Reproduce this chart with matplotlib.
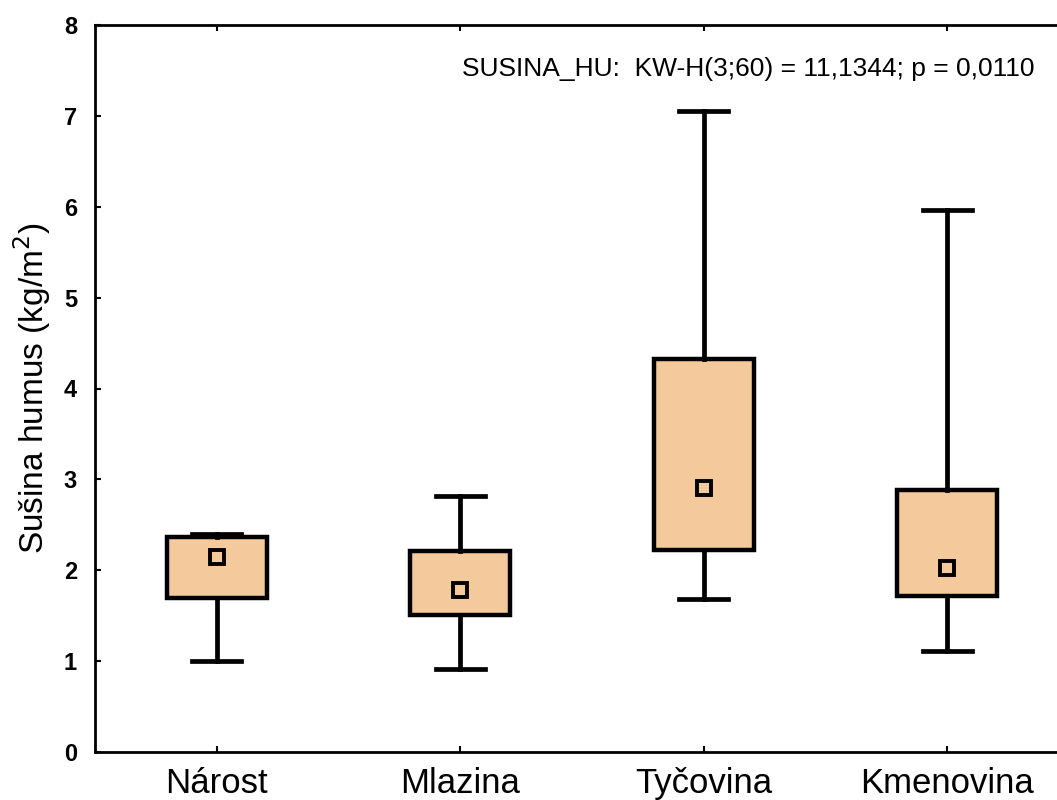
import matplotlib
matplotlib.use("Agg")
import matplotlib.pyplot as plt

categories = ["Nárost", "Mlazina", "Tyčovina", "Kmenovina"]
whisker_low = [1.00, 0.91, 1.68, 1.11]
q1 = [1.70, 1.51, 2.22, 1.72]
q3 = [2.37, 2.21, 4.32, 2.88]
whisker_high = [2.40, 2.82, 7.05, 5.96]
medians = [2.15, 1.78, 2.91, 2.02]
y_ticks = [0, 1, 2, 3, 4, 5, 6, 7, 8]

fig = plt.figure(figsize=(10.57, 8), dpi=100)
ax = fig.add_axes([95/1057, 1-752/800, (1069-95)/1057, (752-25)/800])

stats = []
for i, c in enumerate(categories):
    stats.append(dict(label=c, whislo=whisker_low[i], q1=q1[i], med=medians[i],
                      q3=q3[i], whishi=whisker_high[i], mean=medians[i], fliers=[]))

fill = "#F4C99B"
ax.bxp(stats, positions=range(len(categories)), widths=0.41, patch_artist=True,
       showmeans=True, showfliers=False,
       boxprops=dict(facecolor=fill, edgecolor="black", linewidth=3.2),
       whiskerprops=dict(color="black", linewidth=3.4),
       capprops=dict(color="black", linewidth=3.4),
       capwidths=0.2,
       medianprops=dict(linewidth=0),
       meanprops=dict(marker="s", markersize=10.5, markerfacecolor=fill,
                      markeredgecolor="black", markeredgewidth=2.8))

ax.set_xlim(-0.5, 3.5)
ax.set_ylim(0, 8)
ax.set_yticks(y_ticks)
ax.set_yticklabels([str(t) for t in y_ticks], fontfamily="Liberation Sans",
                   fontweight="bold", fontsize=17)
ax.set_xticks(range(len(categories)))
ax.set_xticklabels(categories, fontfamily="Liberation Sans", fontsize=25)
ax.tick_params(axis="both", direction="in", length=4, width=1.5, top=True, right=False)
ax.tick_params(axis="x", pad=11)
ax.tick_params(axis="y", pad=13)
for s in ax.spines.values():
    s.set_linewidth(2.0)

ax.set_ylabel("Sušina humus (kg/m$^2$)", fontfamily="Liberation Sans", fontsize=24, labelpad=8)
ax.text(0.377, 0.94, "SUSINA_HU:  KW-H(3;60) = 11,1344; p = 0,0110",
        transform=ax.transAxes, fontfamily="Liberation Sans", fontsize=19,
        ha="left", va="center")

fig.savefig("out.png", dpi=100)
